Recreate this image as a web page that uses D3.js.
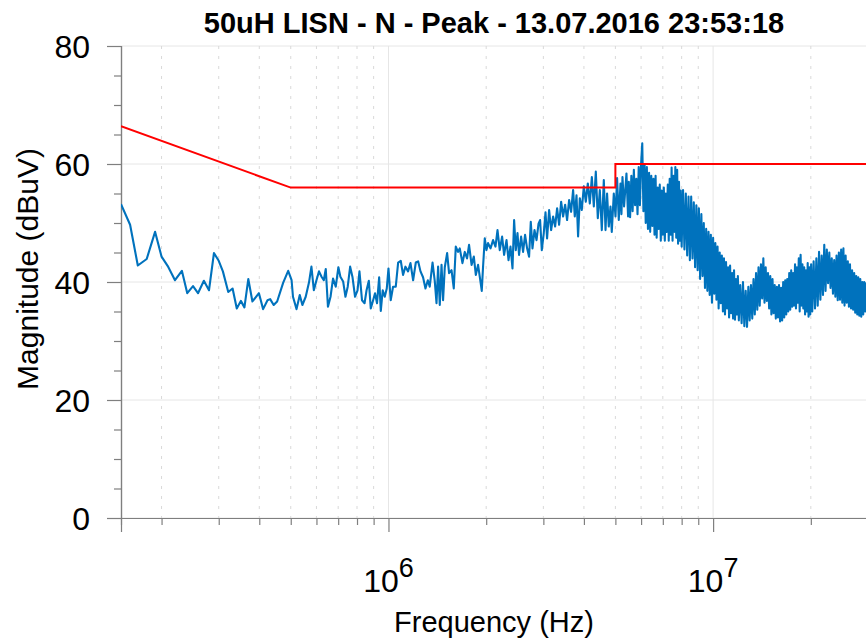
<!DOCTYPE html>
<html>
<head>
<meta charset="utf-8">
<script src="https://cdn.jsdelivr.net/npm/d3@7"></script>
<style>
  body { margin: 0; background: #fff; }
  text { font-family: "Liberation Sans", Arial, sans-serif; fill: #000; }
</style>
</head>
<body>
<script>
'use strict';

// ---- data (frequency in MHz, magnitude in dBuV) ----

// 150 kHz .. 1 MHz, sparse sweep points
const lowFreq = [
  0.150, 0.160, 0.169, 0.180, 0.191, 0.200, 0.209, 0.220, 0.231, 0.240,
  0.250, 0.259, 0.270, 0.280, 0.290, 0.300, 0.309, 0.321, 0.331, 0.341,
  0.351, 0.360, 0.370, 0.381, 0.399, 0.411, 0.424, 0.432, 0.443, 0.454,
  0.474, 0.491, 0.503, 0.508, 0.521, 0.533, 0.543, 0.556, 0.569, 0.579,
  0.589, 0.600, 0.611, 0.622, 0.632, 0.641, 0.651, 0.663, 0.675, 0.688,
  0.701, 0.711, 0.725, 0.737, 0.749, 0.762, 0.775, 0.789, 0.803, 0.814,
  0.829, 0.844, 0.856, 0.870, 0.882, 0.897, 0.909, 0.922, 0.936, 0.947,
  0.960, 0.974, 0.988
];
const lowMag = [
  53.2, 49.7, 42.8, 43.9, 48.5, 44.3, 42.7, 40.3, 41.9, 38.1,
  39.3, 38.1, 40.2, 38.6, 44.9, 43.6, 41.8, 38.3, 38.9, 35.5,
  36.8, 35.7, 40.5, 36.7, 38.1, 35.4, 36.9, 37.1, 36.1, 36.7,
  39.9, 41.9, 40.3, 37.5, 35.4, 37.8, 36.1, 37.5, 39.9, 42.6,
  38.6, 40.3, 41.8, 40.9, 40.3, 42.2, 35.8, 37.5, 40.6, 39.2,
  42.5, 40.9, 40.1, 37.5, 39.2, 42.6, 40.8, 37.5, 38.6, 41.8,
  36.9, 36.4, 38.6, 40.2, 35.5, 36.9, 38.1, 36.4, 40.8, 35.1,
  38.6, 37.5, 38.9
];

// 1 MHz .. 5.5 MHz
const midFreq = [
  1.000, 1.016, 1.033, 1.053, 1.071, 1.091, 1.109, 1.128, 1.149, 1.169,
  1.191, 1.214, 1.234, 1.255, 1.278, 1.300, 1.322, 1.340, 1.367, 1.389,
  1.406, 1.422, 1.439, 1.457, 1.473, 1.491, 1.516, 1.537, 1.564, 1.589,
  1.612, 1.638, 1.658, 1.690, 1.718, 1.746, 1.771, 1.803, 1.832, 1.858,
  1.888, 1.920, 1.938, 1.956, 1.980, 2.004, 2.027, 2.062, 2.100, 2.136,
  2.167, 2.202, 2.239, 2.271, 2.310, 2.343, 2.376, 2.410, 2.438, 2.467,
  2.497, 2.525, 2.562, 2.598, 2.635, 2.673, 2.711, 2.744, 2.777, 2.817,
  2.858, 2.899, 2.931, 2.967, 3.009, 3.046, 3.080, 3.125, 3.170, 3.215,
  3.261, 3.307, 3.355, 3.403, 3.451, 3.501, 3.550, 3.601, 3.652, 3.705,
  3.749, 3.795, 3.838, 3.885, 3.940, 3.997, 4.054, 4.112, 4.171, 4.231,
  4.291, 4.352, 4.414, 4.477, 4.541, 4.606, 4.662, 4.714, 4.771, 4.829,
  4.874, 4.944, 5.004, 5.061, 5.122, 5.184, 5.220, 5.258, 5.318, 5.409,
  5.471
];
const midMag = [
  42.3, 36.9, 39.2, 39.2, 43.3, 43.6, 41.2, 42.6, 41.8, 43.2,
  40.3, 43.3, 43.5, 41.8, 40.8, 38.9, 40.3, 39.2, 43.3, 40.1,
  36.4, 42.6, 36.1, 42.9, 36.9, 42.5, 44.9, 41.5, 42.0, 38.9,
  46.0, 45.1, 45.7, 43.2, 45.1, 44.0, 46.3, 42.9, 44.3, 41.2,
  42.9, 40.1, 38.5, 42.6, 47.4, 45.4, 46.6, 45.7, 47.1, 46.0,
  48.8, 45.4, 47.7, 44.6, 47.1, 43.7, 46.0, 42.3, 50.5, 45.4,
  48.3, 44.6, 47.7, 45.1, 48.0, 45.7, 44.3, 50.2, 45.7, 48.8,
  47.1, 49.9, 50.5, 45.4, 48.3, 51.8, 47.4, 52.2, 48.8, 51.1,
  49.4, 52.5, 49.7, 53.6, 51.1, 53.1, 50.5, 53.9, 51.9, 55.6,
  51.1, 54.7, 47.7, 54.2, 52.2, 56.2, 53.6, 56.7, 53.3, 57.8,
  52.8, 58.7, 50.8, 55.6, 48.8, 57.3, 48.8, 55.0, 49.4, 52.8,
  48.5, 55.0, 51.1, 57.6, 50.5, 56.7, 51.5, 57.8, 52.8, 58.4,
  51.1
];

// 5.5 MHz .. 8 MHz
const peakFreq = [
  5.50, 5.55, 5.60, 5.65, 5.70, 5.75, 5.80, 5.85, 5.90, 5.95,
  6.00, 6.05, 6.10, 6.15, 6.20, 6.25, 6.30, 6.35, 6.40, 6.45,
  6.50, 6.55, 6.60, 6.65, 6.70, 6.75, 6.80, 6.85, 6.90, 6.95,
  7.00, 7.05, 7.10, 7.15, 7.20, 7.25, 7.30, 7.35, 7.40, 7.45,
  7.50, 7.55, 7.60, 7.65, 7.70, 7.75, 7.80, 7.85, 7.90, 7.95,
  8.00
];
const peakMag = [
  57.0, 51.0, 58.0, 52.0, 59.0, 53.0, 57.5, 51.5, 59.5, 53.0,
  60.0, 63.5, 52.0, 60.0, 50.0, 59.5, 49.0, 58.5, 48.5, 58.0,
  49.5, 57.5, 48.0, 58.0, 47.5, 56.0, 49.0, 56.5, 47.0, 55.5,
  48.0, 56.0, 47.0, 55.0, 48.5, 56.5, 47.0, 57.5, 48.0, 59.4,
  47.0, 58.0, 48.5, 59.5, 47.5, 59.0, 46.5, 57.0, 47.0, 55.5,
  46.0
];

// 8 MHz .. 12 MHz
const fallFreq = [
  8.08, 8.16, 8.24, 8.32, 8.40, 8.48, 8.56, 8.64, 8.72, 8.80,
  8.88, 8.96, 9.04, 9.12, 9.20, 9.28, 9.36, 9.44, 9.52, 9.60,
  9.68, 9.76, 9.84, 9.92, 10.00, 10.08, 10.16, 10.24, 10.32, 10.40,
  10.48, 10.56, 10.64, 10.72, 10.80, 10.88, 10.96, 11.04, 11.12, 11.20,
  11.28, 11.36, 11.44, 11.52, 11.60, 11.68, 11.76, 11.84, 11.92, 12.00
];
const fallMag = [
  55.6, 45.5, 55.0, 44.5, 54.5, 43.7, 54.5, 44.0, 53.5, 42.5,
  53.0, 42.0, 52.5, 40.5, 51.5, 41.0, 50.0, 39.0, 49.0, 38.5,
  48.5, 37.8, 48.0, 36.5, 47.5, 38.0, 46.6, 37.0, 46.0, 35.5,
  45.0, 36.4, 44.5, 35.0, 44.0, 34.5, 43.4, 35.5, 42.5, 34.0,
  42.8, 34.7, 41.5, 33.8, 42.0, 33.6, 40.5, 34.5, 41.0, 33.5
];

// 12 MHz .. 20 MHz
const rippleFreq = [
  12.12, 12.24, 12.36, 12.48, 12.60, 12.72, 12.84, 12.96, 13.08, 13.20,
  13.32, 13.44, 13.56, 13.68, 13.80, 13.92, 14.04, 14.16, 14.28, 14.40,
  14.52, 14.64, 14.76, 14.88, 15.00, 15.12, 15.24, 15.36, 15.48, 15.60,
  15.72, 15.84, 15.96, 16.08, 16.20, 16.32, 16.44, 16.56, 16.68, 16.80,
  16.92, 17.04, 17.16, 17.28, 17.40, 17.52, 17.64, 17.76, 17.88, 18.00,
  18.12, 18.24, 18.36, 18.48, 18.60, 18.72, 18.84, 18.96, 19.08, 19.20,
  19.32, 19.44, 19.56, 19.68, 19.80, 19.92, 20.04
];
const rippleMag = [
  39.5, 33.0, 40.0, 32.5, 38.5, 32.4, 39.2, 33.5, 39.5, 33.8,
  40.5, 34.5, 41.5, 35.3, 42.5, 36.0, 43.0, 37.2, 44.0, 36.5,
  42.5, 36.8, 41.5, 35.5, 41.0, 34.5, 40.5, 34.7, 39.5, 33.8,
  39.2, 34.0, 39.5, 33.3, 39.0, 33.5, 40.0, 34.0, 40.3, 34.5,
  40.5, 35.0, 41.5, 35.3, 42.0, 35.8, 41.5, 36.0, 43.0, 35.5,
  42.5, 36.5, 44.0, 35.0, 44.6, 36.0, 43.0, 35.5, 42.5, 34.5,
  42.0, 35.0, 43.2, 34.1, 42.5, 34.5, 43.0
];

// 20 MHz .. 30 MHz
const highFreq = [
  20.2, 20.4, 20.6, 20.8, 21.0, 21.2, 21.4, 21.6, 21.8, 22.0,
  22.2, 22.4, 22.6, 22.8, 23.0, 23.2, 23.4, 23.6, 23.8, 24.0,
  24.2, 24.4, 24.6, 24.8, 25.0, 25.2, 25.4, 25.6, 25.8, 26.0,
  26.2, 26.4, 26.6, 26.8, 27.0, 27.2, 27.4, 27.6, 27.8, 28.0,
  28.2, 28.4, 28.6, 28.8, 29.0, 29.2, 29.4, 29.6, 29.8, 30.0
];
const highMag = [
  35.0, 43.5, 35.5, 44.0, 36.0, 45.1, 37.0, 44.5, 37.8, 46.3,
  38.5, 45.5, 39.8, 45.0, 39.0, 44.0, 38.0, 43.7, 37.5, 44.5,
  36.9, 45.0, 37.0, 45.5, 36.5, 45.7, 36.0, 44.5, 36.5, 43.5,
  35.8, 43.0, 35.5, 42.0, 35.3, 41.5, 34.8, 41.0, 34.5, 40.8,
  34.3, 40.5, 34.1, 40.0, 34.5, 40.0, 35.0, 39.8, 35.5, 40.0
];

// limit line
const limitFreq = [0.15, 0.5, 5, 5, 30];
const limitMag = [66.4, 56, 56, 60, 60];

// ticks
const yMajorTicks = [0, 20, 40, 60, 80];
const yMinorTicks = [5, 10, 15, 25, 30, 35, 45, 50, 55, 65, 70, 75];
const xMajorTicks = [1, 10];
const xMajorExponents = ['6', '7'];
const xMinorTicks = [0.2, 0.3, 0.4, 0.5, 0.6, 0.7, 0.8, 0.9,
  2, 3, 4, 5, 6, 7, 8, 9, 20, 30];

const titleText = '50uH LISN - N - Peak - 13.07.2016 23:53:18';
const xLabelText = 'Frequency (Hz)';
const yLabelText = 'Magnitude (dBuV)';

(function () {

  let svgContainer = '';
  const left = 121, right = 868, top = 46, bottom = 518;
  const axisColor = '#7f7f7f';
  const gridColor = '#e6e6e6';

  window.onload = function () {
    svgContainer = d3.select('body')
      .append('svg')
      .attr('width', 866)
      .attr('height', 644);

    let scales = drawAxes();
    plotData(scales);
    makeLabels();
  };

  // build paired rows from the named arrays
  function zipRows(freqs, mags) {
    return freqs.map((f, i) => ({ f: f, v: mags[i] }));
  }

  function drawAxes() {
    let xScale = d3.scaleLog()
      .domain([0.15, 30])
      .range([left, right]);

    let yScale = d3.scaleLinear()
      .domain([0, 80])
      .range([bottom, top]);

    // horizontal grid at major y ticks
    svgContainer.append('g')
      .selectAll('line')
      .data(yMajorTicks)
      .enter()
      .append('line')
      .attr('x1', left)
      .attr('x2', right)
      .attr('y1', (d) => yScale(d))
      .attr('y2', (d) => yScale(d))
      .attr('stroke', gridColor)
      .attr('stroke-width', 1);

    // dashed vertical grid at minor x ticks
    svgContainer.append('g')
      .selectAll('line')
      .data(xMinorTicks)
      .enter()
      .append('line')
      .attr('x1', (d) => xScale(d))
      .attr('x2', (d) => xScale(d))
      .attr('y1', top)
      .attr('y2', bottom)
      .attr('stroke', '#d9d9d9')
      .attr('stroke-width', 1)
      .attr('stroke-dasharray', '3,7');

    // solid vertical grid at decades
    svgContainer.append('g')
      .selectAll('line')
      .data(xMajorTicks)
      .enter()
      .append('line')
      .attr('x1', (d) => xScale(d))
      .attr('x2', (d) => xScale(d))
      .attr('y1', top)
      .attr('y2', bottom)
      .attr('stroke', gridColor)
      .attr('stroke-width', 1);

    // y axis, major and minor ticks
    let yAxis = d3.axisLeft(yScale)
      .tickValues(yMajorTicks)
      .tickSize(14)
      .tickPadding(17);
    let yAxisG = svgContainer.append('g')
      .attr('transform', 'translate(' + left + ', 0)')
      .call(yAxis);
    yAxisG.selectAll('text')
      .style('font-size', '32px')
      .attr('dy', '0.36em');

    let yMinor = d3.axisLeft(yScale)
      .tickValues(yMinorTicks)
      .tickSize(7)
      .tickFormat('');
    let yMinorG = svgContainer.append('g')
      .attr('transform', 'translate(' + left + ', 0)')
      .call(yMinor);

    // x axis, major and minor ticks (labels drawn by hand for superscripts)
    let xAxis = d3.axisBottom(xScale)
      .tickValues(xMajorTicks)
      .tickSize(14)
      .tickFormat('');
    let xAxisG = svgContainer.append('g')
      .attr('transform', 'translate(0, ' + bottom + ')')
      .call(xAxis);

    let xMinor = d3.axisBottom(xScale)
      .tickValues(xMinorTicks)
      .tickSize(7)
      .tickFormat('');
    let xMinorG = svgContainer.append('g')
      .attr('transform', 'translate(0, ' + bottom + ')')
      .call(xMinor);

    [yAxisG, yMinorG, xAxisG, xMinorG].forEach((g) => {
      g.select('.domain').attr('stroke', axisColor).attr('stroke-width', 1.2);
      g.selectAll('.tick line').attr('stroke', axisColor).attr('stroke-width', 1.2);
    });
    yAxisG.selectAll('text').attr('fill', '#000').style('font-family', '"Liberation Sans", Arial, sans-serif');

    // 10^n labels
    let labels = svgContainer.append('g')
      .selectAll('text')
      .data(xMajorTicks)
      .enter()
      .append('text')
      .attr('x', (d) => xScale(d))
      .attr('y', 592)
      .attr('text-anchor', 'middle')
      .style('font-size', '32px');
    labels.append('tspan').text('10');
    labels.append('tspan')
      .attr('dy', -15)
      .style('font-size', '27px')
      .text((d, i) => xMajorExponents[i]);

    return { x: xScale, y: yScale };
  }

  function plotData(map) {
    svgContainer.append('clipPath')
      .attr('id', 'plotClip')
      .append('rect')
      .attr('x', left)
      .attr('y', top - 2)
      .attr('width', right - left)
      .attr('height', bottom - top + 2);

    let trace = [].concat(
      zipRows(lowFreq, lowMag),
      zipRows(midFreq, midMag),
      zipRows(peakFreq, peakMag),
      zipRows(fallFreq, fallMag),
      zipRows(rippleFreq, rippleMag),
      zipRows(highFreq, highMag)
    );

    let valueLine = d3.line()
      .x((d) => map.x(d.f))
      .y((d) => map.y(d.v));

    svgContainer.append('path')
      .datum(trace)
      .attr('clip-path', 'url(#plotClip)')
      .attr('d', valueLine)
      .attr('fill', 'none')
      .attr('stroke', '#0072bd')
      .attr('stroke-width', 2.1)
      .attr('stroke-linejoin', 'round');

    svgContainer.append('path')
      .datum(zipRows(limitFreq, limitMag))
      .attr('clip-path', 'url(#plotClip)')
      .attr('d', valueLine)
      .attr('fill', 'none')
      .attr('stroke', '#ff0000')
      .attr('stroke-width', 2);
  }

  // title and axis labels
  function makeLabels() {
    svgContainer.append('text')
      .attr('x', 494)
      .attr('y', 33)
      .attr('text-anchor', 'middle')
      .style('font-size', '29px')
      .style('font-weight', 'bold')
      .text(titleText);

    svgContainer.append('text')
      .attr('x', 494)
      .attr('y', 632)
      .attr('text-anchor', 'middle')
      .style('font-size', '29px')
      .text(xLabelText);

    svgContainer.append('text')
      .attr('transform', 'translate(38, 269)rotate(-90)')
      .attr('text-anchor', 'middle')
      .style('font-size', '30px')
      .text(yLabelText);
  }

})();
</script>
</body>
</html>
